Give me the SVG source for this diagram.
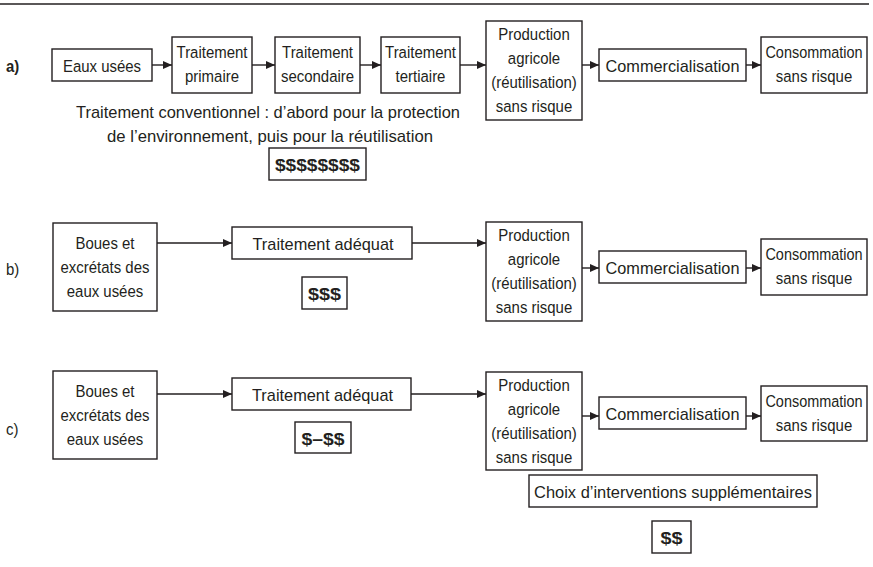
<svg xmlns="http://www.w3.org/2000/svg" width="873" height="567" viewBox="0 0 873 567">
<style>
.box{fill:#fff;stroke:#231f20;stroke-width:1.4}
.t{font-family:"Liberation Sans",Arial,sans-serif;font-size:17px;fill:#231f20;text-anchor:middle}
.b{font-weight:bold}
.lbl{font-family:"Liberation Sans",Arial,sans-serif;font-size:17px;fill:#231f20}
.c{stroke:#231f20;stroke-width:1.4;fill:none;marker-end:url(#ah)}
</style>
<defs>
<marker id="ah" markerWidth="9" markerHeight="8" refX="9" refY="4" orient="auto" markerUnits="userSpaceOnUse">
<path d="M0,0 L9,4 L0,8 Z" fill="#231f20"/>
</marker>
</defs>
<rect width="873" height="567" fill="#fff"/>
<line x1="0" y1="4" x2="869" y2="4" stroke="#231f20" stroke-width="1.6"/>

<text class="lbl b" transform="translate(6,72) scale(0.88,1)">a)</text>
<text class="lbl" transform="translate(6,275) scale(0.88,1)">b)</text>
<text class="lbl" transform="translate(6,435) scale(0.88,1)">c)</text>

<g id="connectors">
<line class="c" x1="152" y1="65" x2="172" y2="65"/>
<line class="c" x1="252" y1="65" x2="275" y2="65"/>
<line class="c" x1="360" y1="65" x2="381" y2="65"/>
<line class="c" x1="460" y1="65" x2="486" y2="65"/>
<line class="c" x1="582" y1="65" x2="599" y2="65"/>
<line class="c" x1="746" y1="65" x2="761" y2="65"/>

<line class="c" x1="157" y1="243" x2="232" y2="243"/>
<line class="c" x1="412" y1="243" x2="486" y2="243"/>
<line class="c" x1="582" y1="268" x2="599" y2="268"/>
<line class="c" x1="746" y1="268" x2="761" y2="268"/>

<line class="c" x1="157" y1="394" x2="232" y2="394"/>
<line class="c" x1="411" y1="394" x2="486" y2="394"/>
<line class="c" x1="582" y1="416" x2="599" y2="416"/>
<line class="c" x1="746" y1="416" x2="761" y2="416"/>
</g>

<!-- Row a -->
<g id="a-eaux">
<rect class="box" x="52" y="49" width="100" height="32"/>
<text class="t" transform="translate(102,72) scale(0.88,1)">Eaux usées</text>
</g>
<g id="a-primaire">
<rect class="box" x="172" y="37" width="80" height="56"/>
<text class="t" transform="translate(212,58) scale(0.88,1)">Traitement</text>
<text class="t" transform="translate(212,82) scale(0.88,1)">primaire</text>
</g>
<g id="a-secondaire">
<rect class="box" x="275" y="37" width="85" height="56"/>
<text class="t" transform="translate(317.5,58) scale(0.88,1)">Traitement</text>
<text class="t" transform="translate(317.5,82) scale(0.88,1)">secondaire</text>
</g>
<g id="a-tertiaire">
<rect class="box" x="381" y="37" width="79" height="56"/>
<text class="t" transform="translate(420.5,58) scale(0.88,1)">Traitement</text>
<text class="t" transform="translate(420.5,82) scale(0.88,1)">tertiaire</text>
</g>
<g id="a-production">
<rect class="box" x="486" y="21" width="96" height="99"/>
<text class="t" transform="translate(534,40) scale(0.88,1)">Production</text>
<text class="t" transform="translate(534,64) scale(0.88,1)">agricole</text>
<text class="t" transform="translate(534,88) scale(0.88,1)">(réutilisation)</text>
<text class="t" transform="translate(534,112) scale(0.88,1)">sans risque</text>
</g>
<g id="a-commercialisation">
<rect class="box" x="599" y="49" width="147" height="32"/>
<text class="t" x="672.5" y="72" textLength="134" lengthAdjust="spacingAndGlyphs">Commercialisation</text>
</g>
<g id="a-consommation">
<rect class="box" x="761" y="37" width="106" height="56"/>
<text class="t" transform="translate(814,58) scale(0.85,1)">Consommation</text>
<text class="t" transform="translate(814,82) scale(0.88,1)">sans risque</text>
</g>
<g id="a-note">
<text class="t" x="268" y="118" textLength="384" lengthAdjust="spacingAndGlyphs">Traitement conventionnel : d’abord pour la protection</text>
<text class="t" x="270" y="142" textLength="326" lengthAdjust="spacingAndGlyphs">de l’environnement, puis pour la réutilisation</text>
</g>
<g id="a-cost">
<rect class="box" x="269" y="148" width="97" height="32"/>
<text class="t b" x="317.5" y="171" textLength="85" lengthAdjust="spacingAndGlyphs">$$$$$$$$</text>
</g>

<!-- Row b -->
<g id="b-boues">
<rect class="box" x="53" y="223" width="104" height="88"/>
<text class="t" transform="translate(105,249) scale(0.88,1)">Boues et</text>
<text class="t" transform="translate(105,273) scale(0.88,1)">excrétats des</text>
<text class="t" transform="translate(105,297) scale(0.88,1)">eaux usées</text>
</g>
<g id="b-traitement">
<rect class="box" x="232" y="227" width="180" height="32"/>
<text class="t" x="323" y="250" textLength="141" lengthAdjust="spacingAndGlyphs">Traitement adéquat</text>
</g>
<g id="b-cost">
<rect class="box" x="302" y="277" width="45" height="32"/>
<text class="t b" x="324.5" y="300" textLength="33" lengthAdjust="spacingAndGlyphs">$$$</text>
</g>
<g id="b-production">
<rect class="box" x="486" y="222" width="96" height="99"/>
<text class="t" transform="translate(534,241) scale(0.88,1)">Production</text>
<text class="t" transform="translate(534,265) scale(0.88,1)">agricole</text>
<text class="t" transform="translate(534,289) scale(0.88,1)">(réutilisation)</text>
<text class="t" transform="translate(534,313) scale(0.88,1)">sans risque</text>
</g>
<g id="b-commercialisation">
<rect class="box" x="599" y="251" width="147" height="32"/>
<text class="t" x="672.5" y="274" textLength="134" lengthAdjust="spacingAndGlyphs">Commercialisation</text>
</g>
<g id="b-consommation">
<rect class="box" x="761" y="239" width="106" height="56"/>
<text class="t" transform="translate(814,260) scale(0.85,1)">Consommation</text>
<text class="t" transform="translate(814,284) scale(0.88,1)">sans risque</text>
</g>

<!-- Row c -->
<g id="c-boues">
<rect class="box" x="53" y="371" width="104" height="88"/>
<text class="t" transform="translate(105,397) scale(0.88,1)">Boues et</text>
<text class="t" transform="translate(105,421) scale(0.88,1)">excrétats des</text>
<text class="t" transform="translate(105,445) scale(0.88,1)">eaux usées</text>
</g>
<g id="c-traitement">
<rect class="box" x="232" y="378" width="179" height="32"/>
<text class="t" x="322.5" y="401" textLength="141" lengthAdjust="spacingAndGlyphs">Traitement adéquat</text>
</g>
<g id="c-cost">
<rect class="box" x="295" y="422" width="56" height="31"/>
<text class="t b" x="323" y="445" textLength="43" lengthAdjust="spacingAndGlyphs">$–$$</text>
</g>
<g id="c-production">
<rect class="box" x="486" y="372" width="96" height="98"/>
<text class="t" transform="translate(534,391) scale(0.88,1)">Production</text>
<text class="t" transform="translate(534,415) scale(0.88,1)">agricole</text>
<text class="t" transform="translate(534,439) scale(0.88,1)">(réutilisation)</text>
<text class="t" transform="translate(534,463) scale(0.88,1)">sans risque</text>
</g>
<g id="c-commercialisation">
<rect class="box" x="599" y="397" width="147" height="32"/>
<text class="t" x="672.5" y="420" textLength="134" lengthAdjust="spacingAndGlyphs">Commercialisation</text>
</g>
<g id="c-consommation">
<rect class="box" x="761" y="386" width="106" height="55"/>
<text class="t" transform="translate(814,407) scale(0.85,1)">Consommation</text>
<text class="t" transform="translate(814,431) scale(0.88,1)">sans risque</text>
</g>
<g id="c-choix">
<rect class="box" x="529" y="475" width="288" height="32"/>
<text class="t" x="673" y="498" textLength="278" lengthAdjust="spacingAndGlyphs">Choix d’interventions supplémentaires</text>
</g>
<g id="c-cost2">
<rect class="box" x="652" y="521" width="39" height="32"/>
<text class="t b" x="671.5" y="544" textLength="22" lengthAdjust="spacingAndGlyphs">$$</text>
</g>
</svg>
